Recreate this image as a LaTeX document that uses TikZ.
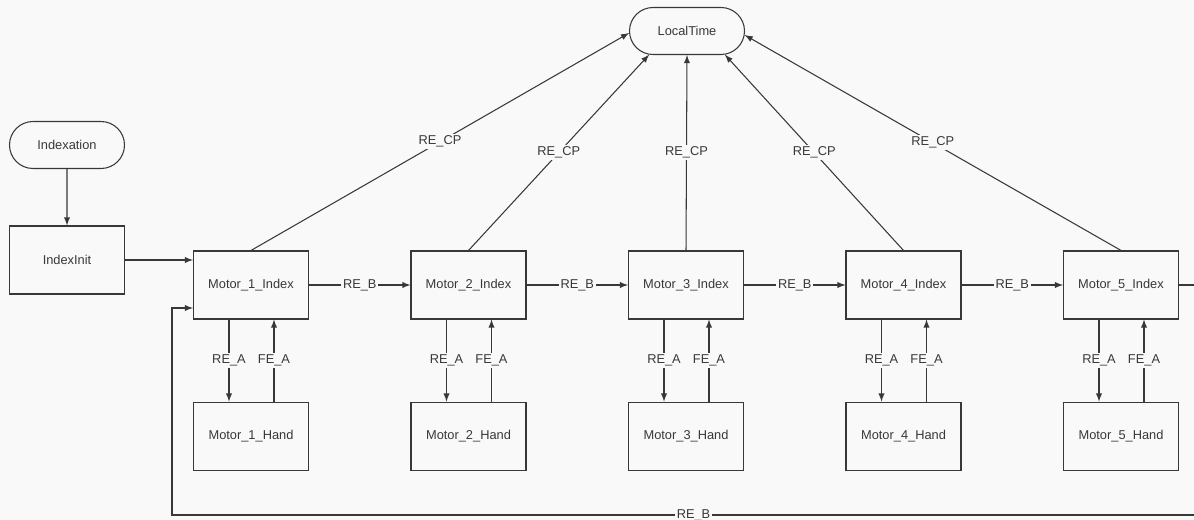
\documentclass[tikz,border=0pt]{standalone}
\usepackage{fontspec}
\setmainfont{Liberation Sans}
\usetikzlibrary{positioning, shapes.misc}
\definecolor{bg}{gray}{0.975}
\definecolor{ln}{gray}{0.22}

\begin{document}
\begin{tikzpicture}[
        font=\fontsize{7.3pt}{9pt}\selectfont, text=ln,
        box/.style={draw=ln, line width=0.6pt, minimum width=2.3cm, minimum height=1.36cm, inner sep=0pt},
        term/.style={draw=ln, line width=0.6pt, rounded rectangle, minimum width=2.3cm, minimum height=0.94cm, inner sep=0pt},
        wire/.style={draw=ln, line width=0.6pt, -latex},
        lbl/.style={fill=bg, inner sep=1pt}
    ]
        \clip (0,0) rectangle (23.88,-10.4);
        \fill[bg] (0,0) rectangle (23.88,-10.4);

        \node (lt) at (13.74,-0.62) [term] {LocalTime};
        \node (ix) at (1.34,-2.9) [term] {Indexation};
        \node (ii) at (1.34,-5.2) [box] {IndexInit};

        \node (mi1) at (5.02,-5.7) [box] {Motor\_1\_Index};
        \node (mi2) at (9.37,-5.7) [box] {Motor\_2\_Index};
        \node (mi3) at (13.72,-5.7) [box] {Motor\_3\_Index};
        \node (mi4) at (18.07,-5.7) [box] {Motor\_4\_Index};
        \node (mi5) at (22.42,-5.7) [box] {Motor\_5\_Index};

        \node (mh1) [box, below=1.64cm of mi1] {Motor\_1\_Hand};
        \node (mh2) [box, below=1.64cm of mi2] {Motor\_2\_Hand};
        \node (mh3) [box, below=1.64cm of mi3] {Motor\_3\_Hand};
        \node (mh4) [box, below=1.64cm of mi4] {Motor\_4\_Hand};
        \node (mh5) [box, below=1.64cm of mi5] {Motor\_5\_Hand};

        \draw[wire] (ix) -- (ii);
        \draw[wire] (ii.east) -- (ii.east -| mi1.west);

        % RE_CP to LocalTime
        \draw[wire] (mi1.north) -- node[lbl] {RE\_CP} (lt.182);
        \draw[wire] (mi2.north) -- node[lbl] {RE\_CP} (lt.212);
        \draw[wire] (mi3.north) -- node[lbl] {RE\_CP} (lt.south);
        \draw[wire] (mi4.north) -- node[lbl] {RE\_CP} (lt.328);
        \draw[wire] (mi5.north) -- node[lbl] {RE\_CP} (lt.356);

        % RE_B chain
        \draw[wire] (mi1) -- node[lbl] {RE\_B} (mi2);
        \draw[wire] (mi2) -- node[lbl] {RE\_B} (mi3);
        \draw[wire] (mi3) -- node[lbl] {RE\_B} (mi4);
        \draw[wire] (mi4) -- node[lbl] {RE\_B} (mi5);

        % index <-> hand
        \draw[wire] ([xshift=-0.44cm]mi1.south) -- node[lbl] {RE\_A} ([xshift=-0.44cm]mh1.north);
        \draw[wire] ([xshift=0.46cm]mh1.north) -- node[lbl] {FE\_A} ([xshift=0.46cm]mi1.south);
        \draw[wire] ([xshift=-0.44cm]mi2.south) -- node[lbl] {RE\_A} ([xshift=-0.44cm]mh2.north);
        \draw[wire] ([xshift=0.46cm]mh2.north) -- node[lbl] {FE\_A} ([xshift=0.46cm]mi2.south);
        \draw[wire] ([xshift=-0.44cm]mi3.south) -- node[lbl] {RE\_A} ([xshift=-0.44cm]mh3.north);
        \draw[wire] ([xshift=0.46cm]mh3.north) -- node[lbl] {FE\_A} ([xshift=0.46cm]mi3.south);
        \draw[wire] ([xshift=-0.44cm]mi4.south) -- node[lbl] {RE\_A} ([xshift=-0.44cm]mh4.north);
        \draw[wire] ([xshift=0.46cm]mh4.north) -- node[lbl] {FE\_A} ([xshift=0.46cm]mi4.south);
        \draw[wire] ([xshift=-0.44cm]mi5.south) -- node[lbl] {RE\_A} ([xshift=-0.44cm]mh5.north);
        \draw[wire] ([xshift=0.46cm]mh5.north) -- node[lbl] {FE\_A} ([xshift=0.46cm]mi5.south);

        % feedback loop
        \coordinate (fbR) at (24.3,-10.3);
        \coordinate (fbL) at (3.44,-10.3);
        \draw[wire] (mi5.east) -| (fbR) -- node[lbl] {RE\_B} (fbL) |- ([yshift=-0.46cm]mi1.west);
\end{tikzpicture}
\end{document}
